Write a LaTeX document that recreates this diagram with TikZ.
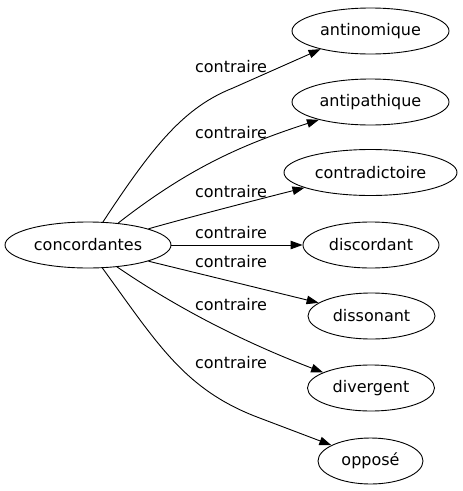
\documentclass[tikz,border=0pt]{standalone}
\usepackage{fontspec}
\setmainfont{DejaVu Sans}
\usetikzlibrary{arrows.meta,shapes.geometric}
\begin{document}
\begin{tikzpicture}[x=1pt,y=-1pt,
  every node/.style={font=\fontsize{16}{19}\selectfont},
  word/.style={draw, ellipse, line width=0.9pt, inner sep=0pt, minimum height=46pt},
  rel/.style={inner sep=0pt},
  link/.style={draw, line width=0.9pt, -{Triangle[length=12pt,width=8.5pt]}}]
\useasboundingbox (0,0) rectangle (463,491);
\node[word, minimum width=166pt] (s) at (88,245) {concordantes};
\node[word, minimum width=157pt] (t1) at (370.5,31) {antinomique};
\node[word, minimum width=157pt] (t2) at (370.5,102) {antipathique};
\node[word, minimum width=173pt] (t3) at (370.5,172.5) {contradictoire};
\node[word, minimum width=136pt] (t4) at (371,245) {discordant};
\node[word, minimum width=127pt] (t5) at (371.5,316) {dissonant};
\node[word, minimum width=127pt] (t6) at (371,388) {divergent};
\node[word, minimum width=105pt] (t7) at (370.5,461) {opposé};
\node[rel] (l1) at (231,67) {contraire};
\node[rel] (l2) at (231,133) {contraire};
\node[rel] (l3) at (231,192) {contraire};
\node[rel] (l4) at (231,233) {contraire};
\node[rel] (l5) at (231,262) {contraire};
\node[rel] (l6) at (231,305) {contraire};
\node[rel] (l7) at (231,363) {contraire};
\draw[link] (s.57) .. controls (154,144) and (185,107) .. (233,88) -- (t1.200);
\draw[link] (s.36) .. controls (190,167) and (244,144) .. (t2.199);
\draw[link] (s.15) .. controls (190,217) and (260,199) .. (t3.193);
\draw[link] (s) -- (t4);
\draw[link] (s.-15) -- (t5.166);
\draw[link] (s.-37.5) .. controls (183,312) and (250,344.5) .. (t6.162);
\draw[link] (s.-58) .. controls (157,343) and (184,389) .. (257,417) -- (t7.158);
\end{tikzpicture}
\end{document}
